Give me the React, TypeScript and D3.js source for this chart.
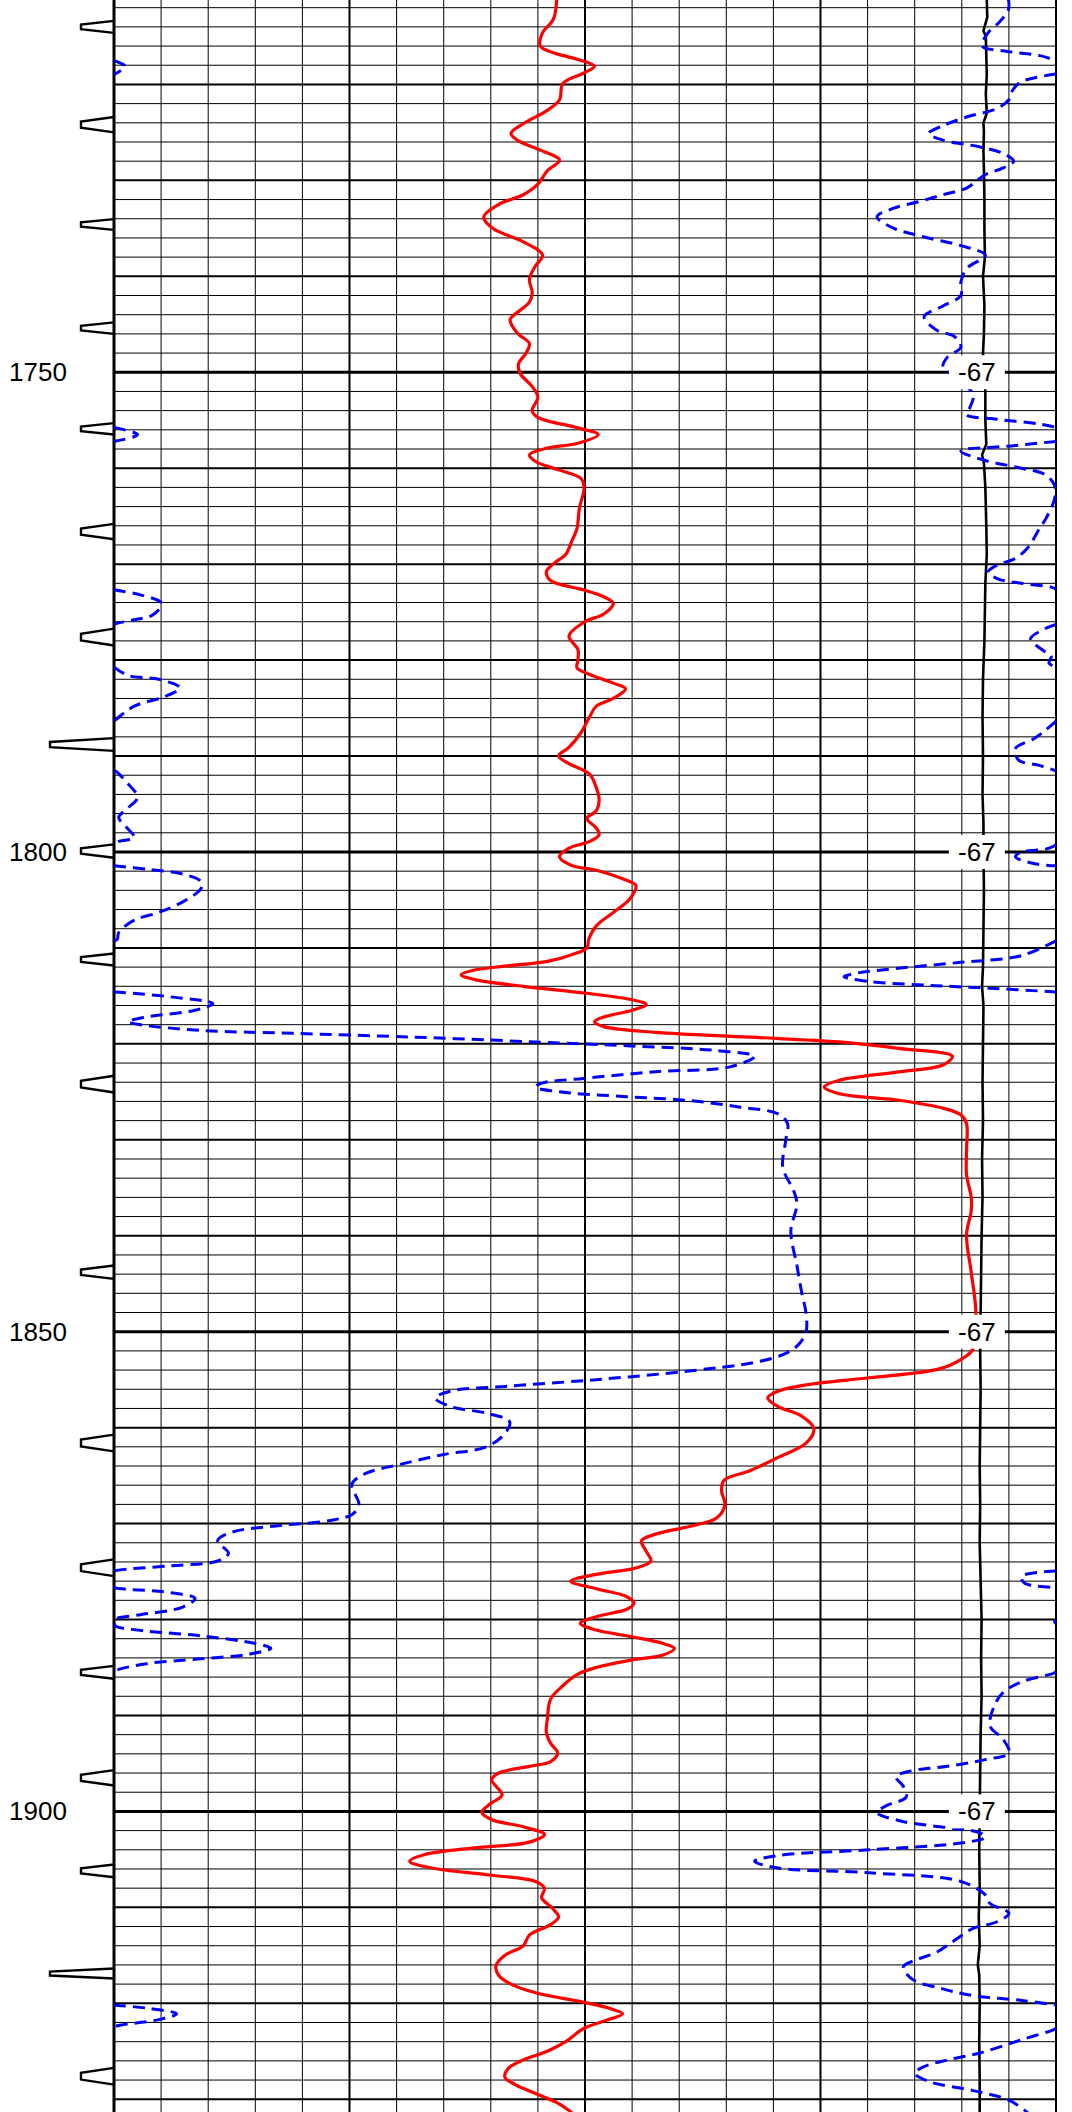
import React from "react";
import * as d3 from "d3";

// ---------------- data ----------------
const depthLabels = [1750, 1800, 1850, 1900];
const curveLabel = "-67";
const curveLabelValue = 18.32;

// red solid curve: [depth, value]
const redCurve: [number, number][] = [
  [1711.1, 9.4], [1713.2, 9.33], [1714.6, 9.1], [1716.0, 9.05], [1716.7, 9.33], [1717.4, 9.85],
  [1718.1, 10.2], [1718.8, 9.98], [1719.9, 9.53], [1721.6, 9.46], [1722.7, 9.2], [1724.1, 8.69],
  [1725.1, 8.43], [1725.8, 8.56], [1726.9, 9.08], [1727.9, 9.46], [1729.0, 9.2], [1730.4, 9.0],
  [1731.5, 8.69], [1732.5, 8.17], [1733.8, 7.85], [1735.0, 8.04], [1736.4, 8.69], [1737.8, 9.1],
  [1738.9, 8.95], [1740.3, 8.82], [1741.7, 8.88], [1742.7, 8.82], [1744.0, 8.5], [1744.5, 8.41],
  [1745.9, 8.56], [1747.0, 8.82], [1748.0, 8.75], [1749.1, 8.59], [1750.1, 8.62], [1751.5, 8.88],
  [1752.6, 9.0], [1754.0, 8.88], [1754.7, 9.0], [1755.8, 9.85], [1756.5, 10.28], [1757.4, 9.85],
  [1757.9, 9.2], [1758.6, 8.82], [1759.3, 8.95], [1760.2, 9.46], [1761.1, 9.92], [1762.1, 9.98],
  [1764.2, 9.88], [1766.3, 9.83], [1767.6, 9.72], [1769.0, 9.59], [1769.7, 9.4], [1770.8, 9.18],
  [1771.7, 9.27], [1772.7, 9.98], [1773.4, 10.4], [1774.1, 10.6], [1775.2, 10.4], [1776.0, 10.0],
  [1777.5, 9.66], [1778.9, 9.85], [1780.0, 9.85], [1780.8, 9.83], [1781.5, 10.1], [1782.4, 10.6],
  [1783.0, 10.86], [1784.0, 10.6], [1784.8, 10.24], [1785.9, 10.1], [1787.6, 9.91], [1789.1, 9.66],
  [1790.0, 9.44], [1790.8, 9.66], [1791.9, 10.1], [1793.3, 10.24], [1794.5, 10.3], [1795.7, 10.24],
  [1796.5, 10.04], [1797.5, 10.24], [1798.2, 10.3], [1798.9, 10.1], [1799.6, 9.66], [1800.5, 9.46],
  [1801.4, 9.72], [1801.9, 10.24], [1802.8, 10.8], [1803.5, 11.08], [1804.9, 10.95], [1806.3, 10.6],
  [1807.7, 10.24], [1809.1, 10.08], [1810.0, 10.04], [1810.7, 9.72], [1811.4, 9.2], [1811.9, 8.3],
  [1812.3, 7.66], [1812.8, 7.37], [1813.3, 7.66], [1814.0, 8.69], [1814.7, 9.98], [1815.4, 11.0],
  [1815.9, 11.3], [1816.5, 11.0], [1817.2, 10.4], [1817.7, 10.2], [1818.2, 10.4], [1818.8, 11.5],
  [1819.3, 13.5], [1819.8, 15.4], [1820.5, 16.7], [1821.3, 17.8], [1822.2, 17.6], [1822.9, 16.7],
  [1823.8, 15.4], [1824.5, 15.08], [1825.2, 15.4], [1825.9, 16.7], [1826.7, 17.6], [1827.4, 17.98],
  [1828.3, 18.1], [1831.1, 18.1], [1833.6, 18.1], [1836.0, 18.2], [1837.4, 18.2], [1839.9, 18.1],
  [1843.8, 18.2], [1848.0, 18.3], [1851.8, 18.24], [1852.9, 17.98], [1853.9, 17.5], [1854.8, 16.04],
  [1855.5, 14.75], [1856.2, 14.1], [1856.9, 13.88], [1857.8, 14.1], [1858.8, 14.6], [1860.1, 14.86],
  [1861.6, 14.7], [1863.1, 14.1], [1864.5, 13.5], [1865.5, 12.95], [1866.6, 12.9], [1868.0, 12.97],
  [1869.4, 12.8], [1870.1, 12.4], [1871.1, 11.5], [1871.8, 11.2], [1872.9, 11.3], [1873.9, 11.4],
  [1874.6, 11.1], [1875.3, 10.24], [1876.0, 9.7], [1876.8, 10.24], [1877.6, 10.88], [1878.3, 11.04],
  [1878.9, 10.9], [1879.7, 10.24], [1880.4, 9.9], [1881.1, 10.24], [1881.8, 11.0], [1882.5, 11.66],
  [1883.0, 11.9], [1883.7, 11.66], [1884.2, 11.0], [1885.0, 10.24], [1885.7, 9.85], [1886.9, 9.53],
  [1888.3, 9.27], [1890.4, 9.2], [1891.8, 9.18], [1892.9, 9.27], [1893.9, 9.42], [1894.8, 9.27],
  [1895.3, 8.82], [1896.0, 8.17], [1896.7, 8.02], [1898.3, 8.24], [1899.2, 7.99], [1900.1, 7.81],
  [1900.9, 8.04], [1901.6, 8.69], [1902.4, 9.14], [1903.2, 8.82], [1903.8, 7.66], [1904.5, 6.6],
  [1905.2, 6.28], [1905.9, 6.75], [1906.6, 7.91], [1907.3, 8.95], [1908.0, 9.14], [1909.0, 9.08],
  [1910.1, 9.31], [1911.0, 9.44], [1911.8, 9.27], [1912.9, 8.82], [1914.0, 8.69], [1915.0, 8.3],
  [1916.1, 8.11], [1917.1, 8.17], [1918.0, 8.43], [1918.9, 8.95], [1919.9, 9.98], [1920.5, 10.5],
  [1921.1, 10.8], [1921.7, 10.5], [1922.6, 9.98], [1924.0, 9.59], [1925.0, 9.2], [1925.9, 8.69],
  [1926.8, 8.37], [1927.7, 8.3], [1928.5, 8.53], [1929.4, 8.95], [1930.5, 9.46], [1931.4, 9.72],
];

// blue dashed curve (true values; wraps every 20 units): [depth, value]
const blueCurve: [number, number][] = [
  [1711.1, 18.99], [1712.2, 18.99], [1713.5, 18.8], [1714.6, 18.56], [1716.0, 18.43], [1716.5, 18.88],
  [1717.0, 19.66], [1717.6, 20.05], [1718.1, 20.24], [1718.9, 20.02], [1719.7, 19.27], [1720.6, 19.08],
  [1721.6, 19.0], [1722.5, 18.75], [1723.4, 18.1], [1724.3, 17.6], [1725.1, 17.3], [1725.8, 17.6],
  [1726.5, 18.37], [1727.2, 18.88], [1728.0, 19.1], [1728.7, 18.88], [1729.4, 18.5], [1730.8, 18.1],
  [1731.5, 17.6], [1732.2, 17.1], [1732.9, 16.56], [1733.8, 16.2], [1735.0, 16.56], [1735.9, 17.2],
  [1736.8, 17.98], [1737.8, 18.5], [1739.2, 18.1], [1740.6, 17.98], [1742.0, 17.98], [1743.1, 17.6],
  [1744.2, 17.2], [1745.6, 17.46], [1746.3, 17.85], [1747.4, 17.98], [1748.4, 17.7], [1749.4, 17.6],
  [1750.5, 17.85], [1752.3, 18.24], [1753.7, 18.17], [1754.4, 18.1], [1754.9, 18.75], [1755.4, 19.66],
  [1755.8, 20.05], [1756.5, 20.5], [1757.2, 20.02], [1757.7, 19.0], [1758.2, 17.98], [1759.2, 18.5],
  [1760.0, 19.27], [1760.7, 19.78], [1761.8, 19.97], [1763.2, 19.97], [1765.3, 19.78], [1766.2, 19.66],
  [1768.3, 19.4], [1769.4, 19.14], [1770.1, 18.75], [1770.8, 18.56], [1771.5, 18.75], [1772.0, 19.27],
  [1772.4, 19.9], [1772.7, 20.04], [1773.2, 20.56], [1774.1, 21.01], [1775.3, 20.82], [1775.8, 20.43],
  [1776.2, 20.04], [1776.7, 19.78], [1777.8, 19.46], [1778.9, 19.7], [1779.6, 19.9], [1780.3, 19.85],
  [1781.6, 20.3], [1782.0, 20.95], [1782.9, 21.4], [1783.8, 21.08], [1784.8, 20.43], [1786.2, 20.04],
  [1787.3, 19.78], [1788.2, 19.53], [1789.2, 19.14], [1790.4, 19.2], [1791.0, 19.66], [1791.6, 20.04],
  [1792.9, 20.3], [1794.3, 20.5], [1795.4, 20.3], [1796.4, 20.1], [1797.3, 20.24], [1798.5, 20.43],
  [1798.9, 20.1], [1799.4, 19.95], [1799.7, 19.78], [1800.0, 19.27], [1800.5, 19.14], [1801.2, 19.53],
  [1801.8, 20.69], [1802.3, 21.46], [1803.1, 21.85], [1803.8, 21.85], [1805.2, 21.46], [1806.3, 20.95],
  [1807.1, 20.43], [1808.4, 20.1], [1809.1, 20.07], [1810.8, 19.27], [1811.5, 17.98], [1812.1, 16.7],
  [1812.6, 15.8], [1813.0, 15.5], [1813.5, 16.04], [1813.9, 17.3], [1814.2, 18.6], [1814.6, 20.04],
  [1815.1, 21.2], [1815.8, 22.1], [1816.5, 21.72], [1817.2, 20.69], [1817.7, 20.3], [1818.0, 20.56],
  [1818.6, 21.85], [1818.9, 23.79], [1819.3, 26.37], [1819.8, 28.95], [1820.2, 30.9], [1820.7, 32.8],
  [1821.3, 33.6], [1822.4, 33.08], [1822.9, 31.5], [1823.6, 29.98], [1824.1, 29.08], [1824.5, 28.95],
  [1825.0, 29.46], [1825.5, 30.88], [1825.9, 32.2], [1826.6, 33.3], [1827.3, 34.1], [1828.3, 34.3],
  [1830.1, 34.26], [1832.9, 34.2], [1835.3, 34.43], [1836.7, 34.5], [1839.5, 34.37], [1843.1, 34.5],
  [1845.9, 34.6], [1848.0, 34.69], [1850.1, 34.69], [1851.5, 34.5], [1852.4, 34.2], [1853.2, 33.6],
  [1854.1, 32.2], [1855.0, 30.24], [1855.7, 28.3], [1856.2, 27.14], [1856.9, 26.82], [1857.8, 27.14],
  [1858.5, 27.91], [1859.4, 28.4], [1860.6, 28.3], [1862.0, 27.91], [1862.8, 27.0], [1863.8, 26.1],
  [1864.8, 25.33], [1865.9, 25.05], [1868.0, 25.2], [1869.0, 25.07], [1869.7, 24.56], [1870.2, 23.53],
  [1870.9, 22.5], [1871.8, 22.2], [1873.1, 22.43], [1873.9, 22.2], [1874.4, 21.2], [1874.8, 20.17],
  [1875.5, 19.27], [1876.2, 19.33], [1876.8, 20.17], [1877.2, 21.2], [1877.8, 21.72], [1878.7, 21.46],
  [1879.5, 20.56], [1879.9, 20.04], [1880.2, 19.97], [1880.7, 20.04], [1881.2, 20.69], [1881.7, 21.85],
  [1882.5, 23.0], [1883.0, 23.33], [1883.6, 22.88], [1884.1, 21.85], [1884.6, 20.69], [1885.3, 20.04],
  [1885.6, 19.95], [1886.5, 19.27], [1887.6, 18.88], [1889.0, 18.69], [1891.1, 18.6], [1892.5, 18.88],
  [1893.9, 19.0], [1894.6, 18.5], [1895.3, 17.7], [1895.8, 16.9], [1896.4, 16.6], [1897.4, 16.76],
  [1898.5, 16.82], [1899.4, 16.4], [1900.1, 16.2], [1901.0, 16.7], [1901.7, 17.7], [1902.2, 18.37],
  [1902.7, 18.5], [1903.3, 17.98], [1904.0, 16.04], [1904.6, 14.1], [1905.2, 13.6], [1905.9, 14.1],
  [1906.4, 16.04], [1907.3, 17.98], [1908.7, 18.5], [1909.6, 18.6], [1910.6, 19.0], [1911.5, 18.75],
  [1912.2, 18.24], [1913.6, 17.8], [1914.7, 17.46], [1915.4, 17.07], [1916.2, 16.76], [1917.5, 16.95],
  [1918.5, 17.6], [1919.2, 18.24], [1919.7, 19.27], [1920.2, 20.04], [1920.5, 20.69], [1921.1, 21.33],
  [1921.7, 20.95], [1922.4, 20.04], [1922.7, 19.97], [1923.8, 19.27], [1925.2, 18.37], [1925.9, 17.7],
  [1926.6, 17.2], [1927.3, 17.0], [1928.2, 17.33], [1929.1, 18.24], [1930.1, 19.0], [1931.4, 19.4],
];

// black curve: [depth, value]
const blackCurve: [number, number][] = [
  [1711.0, 18.53], [1713.0, 18.54], [1714.4, 18.46], [1715.0, 18.51], [1717.0, 18.52], [1719.0, 18.53],
  [1721.0, 18.51], [1723.0, 18.53], [1724.0, 18.46], [1725.0, 18.47], [1727.0, 18.46], [1729.0, 18.47],
  [1732.0, 18.48], [1735.0, 18.48], [1738.0, 18.49], [1740.0, 18.45], [1743.0, 18.48], [1746.0, 18.47],
  [1748.0, 18.45], [1750.0, 18.47], [1752.0, 18.5], [1755.0, 18.5], [1757.5, 18.52], [1758.6, 18.43],
  [1759.5, 18.47], [1762.0, 18.5], [1766.0, 18.52], [1769.0, 18.53], [1772.0, 18.5], [1775.0, 18.49],
  [1778.0, 18.48], [1782.0, 18.45], [1786.0, 18.44], [1790.0, 18.45], [1794.0, 18.44], [1797.0, 18.46],
  [1800.0, 18.46], [1804.0, 18.47], [1808.0, 18.46], [1812.0, 18.45], [1814.0, 18.43], [1816.0, 18.46],
  [1820.0, 18.45], [1824.0, 18.44], [1828.0, 18.45], [1832.0, 18.43], [1836.0, 18.44], [1840.0, 18.42],
  [1844.0, 18.41], [1848.0, 18.4], [1852.0, 18.39], [1856.0, 18.4], [1860.0, 18.39], [1864.0, 18.38],
  [1868.0, 18.39], [1872.0, 18.38], [1876.0, 18.4], [1880.0, 18.42], [1884.0, 18.41], [1888.0, 18.42],
  [1892.0, 18.4], [1896.0, 18.39], [1900.0, 18.38], [1904.0, 18.37], [1908.0, 18.38], [1911.0, 18.36],
  [1914.0, 18.38], [1916.0, 18.34], [1917.0, 18.37], [1920.0, 18.38], [1924.0, 18.37], [1928.0, 18.38],
  [1931.5, 18.38],
];

// depth tick markers on the left
const markerDepths = [1714.0, 1724.2, 1734.6, 1745.4, 1755.9, 1766.6, 1777.6, 1788.8, 1799.9, 1811.2,
  1824.2, 1843.8, 1861.6, 1874.6, 1885.5, 1896.5, 1906.2, 1916.9, 1927.6];
const markerClass = ["short", "short", "short", "short", "short", "short", "short", "long", "short", "short",
  "short", "short", "short", "short", "short", "short", "short", "long", "short"];
const markerWeight = [6, 7.7, 5.4, 5.7, 5.7, 7.7, 8.4, 6.4, 6.7, 6, 8.4, 6.7, 8.4, 8.4, 6.4, 7.7, 6.4, 5, 8.4];

// ---------------- layout ----------------
const W = 1072;
const H = 2112;
const PLOT_L = 114;
const PLOT_R = 1056;
const DEPTH_TOP = 1711.2;
const DEPTH_BOT = 1931.33;
const WRAP = 20;
const FONT = "'Liberation Sans', Arial, Helvetica, sans-serif";

const x = d3.scaleLinear().domain([0, WRAP]).range([PLOT_L, PLOT_R]);
const y = d3.scaleLinear().domain([DEPTH_TOP, DEPTH_BOT]).range([0, H]);
const markerLen = d3.scaleOrdinal<string, number>().domain(["short", "long"]).range([33, 64]);

function wrapPieces(data: [number, number][], span: number): [number, number][][] {
  const pieces: [number, number][][] = [];
  let cur: [number, number][] = [];
  for (let i = 0; i < data.length; i++) {
    const [d, v] = data[i];
    const k = Math.floor(v / span);
    if (i > 0) {
      const [pd, pv] = data[i - 1];
      const pk = Math.floor(pv / span);
      if (k !== pk) {
        const b = span * Math.max(k, pk);
        const t = (b - pv) / (v - pv);
        const dc = pd + t * (d - pd);
        cur.push([dc, pk < k ? span : 0]);
        pieces.push(cur);
        cur = [[dc, pk < k ? 0 : span]];
      }
    }
    cur.push([d, v - k * span]);
  }
  pieces.push(cur);
  return pieces;
}

const smooth = d3
  .line<[number, number]>()
  .x((p) => x(p[1]))
  .y((p) => y(p[0]))
  .curve(d3.curveCatmullRom.alpha(0.5));

const jagged = d3
  .line<[number, number]>()
  .x((p) => x(p[1]))
  .y((p) => y(p[0]));

export default function App() {
  const hLines = d3.range(1712, 1932, 2);
  const vLines = d3.range(0, WRAP + 1, 1);
  const bluePieces = wrapPieces(blueCurve, WRAP);

  return (
    <svg
      width={W}
      height={H}
      style={{ position: "absolute", left: 0, top: 0, background: "#fff", display: "block" }}
    >
      <defs>
        <clipPath id="plotClip">
          <rect x={PLOT_L} y={0} width={PLOT_R - PLOT_L} height={H} />
        </clipPath>
      </defs>
      <rect x={0} y={0} width={W} height={H} fill="#fff" />

      {/* horizontal grid */}
      {hLines.map((d) => (
        <line
          key={"h" + d}
          x1={PLOT_L}
          x2={PLOT_R}
          y1={y(d)}
          y2={y(d)}
          stroke="#000"
          strokeWidth={d % 50 === 0 ? 3 : d % 10 === 0 ? 2 : 1}
        />
      ))}
      {/* vertical grid */}
      {vLines.map((v) => (
        <line
          key={"v" + v}
          x1={x(v)}
          x2={x(v)}
          y1={0}
          y2={H}
          stroke="#000"
          strokeWidth={v === 0 ? 3 : v % 5 === 0 ? 2 : 1}
        />
      ))}

      {/* curves */}
      <g clipPath="url(#plotClip)">
        <path d={jagged(blackCurve) || ""} fill="none" stroke="#000" strokeWidth={2.6} />
        {bluePieces.map((p, i) => (
          <path
            key={"b" + i}
            d={smooth(p) || ""}
            fill="none"
            stroke="#0000ff"
            strokeWidth={3}
            strokeDasharray="12 7"
          />
        ))}
        <path d={smooth(redCurve) || ""} fill="none" stroke="#ff0000" strokeWidth={3.2} />
      </g>

      {/* curve value labels */}
      {depthLabels.map((d) => (
        <g key={"cl" + d}>
          <rect x={x(curveLabelValue) - 28} y={y(d) - 17} width={56} height={34} fill="#fff" />
          <text
            x={x(curveLabelValue)}
            y={y(d)}
            textAnchor="middle"
            dominantBaseline="central"
            fontFamily={FONT}
            fontSize={26}
            fill="#000"
          >
            {curveLabel}
          </text>
        </g>
      ))}

      {/* depth labels */}
      {depthLabels.map((d) => (
        <text
          key={"dl" + d}
          x={9}
          y={y(d)}
          dominantBaseline="central"
          fontFamily={FONT}
          fontSize={26}
          fill="#000"
        >
          {d}
        </text>
      ))}

      {/* left markers */}
      {markerDepths.map((d, i) => {
        const yy = y(d);
        const h = markerWeight[i];
        const w = h * 0.4;
        const tip = PLOT_L - markerLen(markerClass[i]);
        const pts = [
          [PLOT_L, yy - h],
          [tip, yy - w],
          [tip, yy + w],
          [PLOT_L, yy + h],
        ];
        return (
          <polyline
            key={"m" + i}
            points={pts.map((p) => p.join(",")).join(" ")}
            fill="none"
            stroke="#000"
            strokeWidth={2.4}
            strokeLinejoin="miter"
          />
        );
      })}
    </svg>
  );
}
